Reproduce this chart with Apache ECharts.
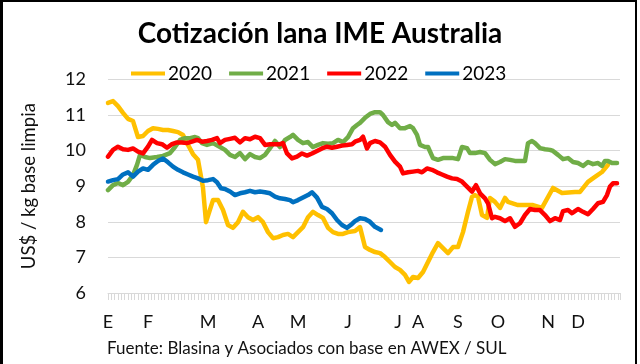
<!DOCTYPE html>
<html>
<head>
<meta charset="utf-8">
<script src="https://cdn.jsdelivr.net/npm/echarts@6/dist/echarts.min.js"></script>
<style>
html,body{margin:0;padding:0;background:#fff;}
#chart{position:absolute;left:0;top:0;width:640px;height:364px;}
.bl{position:absolute;left:0;top:0;width:3px;height:364px;background:#000;}
.bt{position:absolute;left:0;top:0;width:637px;height:2px;background:#000;}
.br{position:absolute;left:635px;top:0;width:2px;height:364px;background:#000;}
</style>
</head>
<body>
<div id="chart"></div>
<div class="bl"></div><div class="bt"></div><div class="br"></div>
<script>
// Month tick labels (week index where each label sits)
const monthLabels = ['E','F','M','A','M','J','J','A','S','O','N','D'];
const monthWeeks  = [0, 4, 10, 15, 19, 24, 29, 31, 35, 39, 44, 47];

const seriesNames = ['2020','2021','2022','2023'];

// 2020
const weeks2020 = [0,0.5,1,1.5,2,2.5,3,3.5,4,4.5,5,5.5,6,6.5,7,7.5,8,8.5,9,9.5,9.8,10.5,11,11.5,12,12.5,13,13.5,14,14.5,15,15.5,16,16.5,17,17.5,18,18.5,19,19.5,20,20.5,21,21.5,22,22.5,23,23.5,24,24.7,25.2,25.7,26.2,26.7,27.2,27.7,28.2,28.7,29.2,29.7,30.1,30.5,31,31.5,32,32.5,33,33.5,34,34.5,35,35.5,36,36.4,36.7,37,37.4,37.9,38.2,38.7,39.2,39.7,40,41,42.5,43.4,44.5,45.4,46.7,47.2,48,48.7,49.4,50];
const values2020 = [11.34,11.39,11.25,11.06,10.89,10.83,10.38,10.41,10.55,10.63,10.61,10.58,10.58,10.55,10.52,10.44,10.16,9.90,9.74,8.95,7.99,8.61,8.61,8.33,7.91,7.83,7.99,8.28,8.13,8.05,8.13,7.99,7.71,7.54,7.57,7.63,7.66,7.57,7.71,7.85,8.13,8.28,8.19,8.11,7.83,7.71,7.66,7.66,7.71,7.74,7.85,7.29,7.21,7.15,7.12,7.01,6.87,6.73,6.65,6.51,6.31,6.45,6.42,6.59,6.87,7.15,7.40,7.26,7.12,7.29,7.29,7.71,8.28,8.70,8.75,8.70,8.19,8.11,8.67,8.56,8.39,8.67,8.56,8.47,8.47,8.39,8.95,8.81,8.84,8.84,9.12,9.26,9.40,9.60];

// 2021
const weeks2021 = [0,0.5,1,1.5,2,2.5,2.9,3.2,3.7,4.2,4.9,5.5,6.2,6.7,7.2,7.7,8.2,8.7,9,9.4,9.9,10.5,11.2,11.7,12.2,12.7,13.2,13.7,14.2,14.7,15.2,15.7,16.2,16.7,17.2,17.7,18.2,18.5,19,19.5,20,20.5,21,21.5,22,22.5,23,23.5,24,24.5,24.9,25.2,25.7,26.2,26.7,27.2,27.5,28,28.4,28.7,29.2,29.7,30.2,30.5,30.9,31.2,31.7,32,32.5,33,33.5,34,34.5,35,35.4,35.9,36.2,36.7,37.2,37.7,38.2,38.7,39.2,39.7,40.2,40.7,41.2,41.7,42,42.4,42.7,43.2,43.7,44.2,44.5,45,45.5,46,46.5,47,47.5,48,48.5,49,49.4,49.7,50,50.4,50.9];
const values2021 = [8.89,9.03,9.09,9.03,9.12,9.31,9.60,9.88,9.82,9.79,9.82,9.85,9.93,10.10,10.30,10.35,10.35,10.38,10.35,10.21,10.16,10.21,10.10,10.02,9.88,9.82,9.93,9.76,9.90,9.82,9.79,9.88,10.07,10.27,10.10,10.30,10.38,10.44,10.30,10.21,10.24,10.10,10.16,10.21,10.19,10.21,10.30,10.24,10.38,10.63,10.72,10.78,10.92,11.03,11.08,11.08,11.00,10.80,10.72,10.78,10.63,10.63,10.69,10.63,10.44,10.16,10.10,10.10,9.79,9.74,9.79,9.79,9.79,9.76,10.10,10.07,9.93,9.93,9.96,9.93,9.74,9.62,9.68,9.76,9.74,9.71,9.71,9.71,10.21,10.27,10.21,10.07,10.04,10.02,9.99,9.88,9.76,9.79,9.68,9.65,9.57,9.68,9.62,9.65,9.57,9.71,9.71,9.65,9.65];

// 2022
const weeks2022 = [0,0.5,1,1.5,2,2.5,3,3.5,4,4.4,4.9,5.4,5.9,6.4,6.9,7.4,7.9,8.4,8.9,9.4,9.9,10.4,10.9,11.2,11.7,12.2,12.7,13.2,13.7,14.2,14.7,15.2,15.7,16.2,16.7,17.2,17.5,17.9,18.4,18.9,19.4,19.9,20.4,20.9,21.4,21.9,22.4,22.9,23.4,23.9,24.4,24.7,25.2,25.5,25.9,26.2,26.7,27.2,27.7,28.2,28.7,29.2,29.5,30,30.5,31,31.4,31.9,32.4,32.9,33.4,33.9,34.4,34.9,35.4,35.9,36.4,36.8,37.2,37.7,38,38.4,38.7,39.2,39.7,40.2,40.7,41.2,41.7,42.2,42.7,43.2,43.7,44.2,44.7,45.2,45.5,46,46.4,46.7,47,47.5,48,48.5,49,49.5,49.9,50.2,50.5,50.9];
const values2022 = [9.83,10.02,10.11,10.04,10.02,10.06,9.97,9.92,10.11,10.30,10.21,10.18,10.08,10.18,10.23,10.23,10.21,10.25,10.30,10.25,10.27,10.30,10.35,10.21,10.30,10.33,10.36,10.23,10.35,10.32,10.39,10.35,10.16,10.18,10.18,10.18,10.21,9.92,9.78,9.83,9.92,9.86,9.92,9.99,10.06,10.11,10.08,10.11,10.14,10.16,10.18,10.25,10.30,10.39,10.06,10.21,10.27,10.23,10.11,9.88,9.69,9.55,9.36,9.39,9.41,9.43,9.39,9.50,9.46,9.39,9.33,9.27,9.22,9.20,9.13,8.99,8.85,9.03,8.80,8.66,8.52,8.10,8.14,8.10,8.02,8.10,7.86,7.96,8.19,8.36,8.33,8.33,8.19,8.02,8.10,8.05,8.30,8.33,8.24,8.30,8.36,8.28,8.21,8.36,8.52,8.56,8.75,8.99,9.08,9.08];

// 2023
const weeks2023 = [0,0.5,1,1.5,2,2.5,3,3.5,4,4.5,5,5.5,6,6.5,7,7.5,8,8.5,9,9.5,10,10.5,10.9,11.3,11.7,12.2,12.7,13.2,13.7,14.2,14.7,15.2,15.7,16.2,16.7,17.2,17.7,18.2,18.5,19,19.5,20,20.4,20.9,21.4,21.9,22.4,22.9,23.4,23.9,24.4,24.7,25.2,25.7,26.2,26.7,27.3];
const values2023 = [9.13,9.17,9.20,9.33,9.39,9.27,9.41,9.50,9.46,9.60,9.71,9.78,9.67,9.55,9.46,9.39,9.33,9.27,9.22,9.15,9.17,9.20,9.11,8.94,8.92,8.85,8.75,8.80,8.83,8.87,8.83,8.85,8.83,8.80,8.71,8.66,8.64,8.61,8.55,8.61,8.68,8.75,8.83,8.68,8.42,8.36,8.24,8.05,7.91,7.83,7.94,8.02,8.10,8.08,8.00,7.86,7.77];

const yTicks = [6,7,8,9,10,11,12];
const titleText = 'Cotización lana IME Australia';
const sourceText = 'Fuente: Blasina y Asociados con base en AWEX / SUL';
const yName = 'US$ / kg base limpia';

const colors = ['#FFC000','#70AD47','#FF0000','#0070C0'];
const weeksAll = [weeks2020, weeks2021, weeks2022, weeks2023];
const valuesAll = [values2020, values2021, values2022, values2023];

const FONT = 'Lato';
const chart = echarts.init(document.getElementById('chart'), null, {renderer:'canvas'});
chart.setOption({
  animation:false,
  backgroundColor:'#fff',
  textStyle:{fontFamily:FONT},
  title:[
    {text:titleText, left:'center', top:15,
     textStyle:{fontFamily:FONT, fontWeight:'bold', fontSize:28, color:'#000'}},
    {text:sourceText, left:102, top:335,
     textStyle:{fontFamily:FONT, fontWeight:'normal', fontSize:17, color:'#111'}}
  ],
  legend:{
    top:59, left:126, icon:'rect', itemWidth:34, itemHeight:4, itemGap:17,
    textStyle:{fontFamily:FONT, fontSize:19, color:'#000', padding:[0,0,0,-2]},
    data:seriesNames
  },
  grid:{left:108, right:20, top:79.4, bottom:71, containLabel:false},
  xAxis:{
    type:'value', min:0, max:51.2, interval:1,
    axisLine:{show:true, lineStyle:{color:'#d9d9d9', width:1}},
    axisTick:{show:true, length:7, lineStyle:{color:'#d9d9d9'}},
    minorTick:{show:true, splitNumber:3, length:7, lineStyle:{color:'#d9d9d9'}},
    splitLine:{show:false},
    axisLabel:{
      margin:20, fontSize:18, color:'#111', fontFamily:FONT,
      formatter:function(v){ const k = monthWeeks.indexOf(Math.round(v)); return (Math.abs(v-Math.round(v))<1e-6 && k>=0) ? monthLabels[k] : ''; }
    }
  },
  yAxis:{
    type:'value', min:yTicks[0], max:yTicks[yTicks.length-1], interval:1,
    name:yName, nameLocation:'middle', nameRotate:90, nameGap:69,
    nameTextStyle:{fontFamily:FONT, fontSize:18.5, color:'#111'},
    axisLine:{show:false}, axisTick:{show:false},
    axisLabel:{margin:22, fontSize:18, color:'#111', fontFamily:FONT},
    splitLine:{lineStyle:{color:'#d9d9d9', width:1}}
  },
  series: seriesNames.map(function(n,i){
    return {
      name:n, type:'line', showSymbol:false, symbol:'none',
      color:colors[i],
      lineStyle:{width:4.5, color:colors[i], join:'round', cap:'round'},
      data: weeksAll[i].map(function(w,j){ return [w, valuesAll[i][j]]; })
    };
  })
});
</script>
</body>
</html>
